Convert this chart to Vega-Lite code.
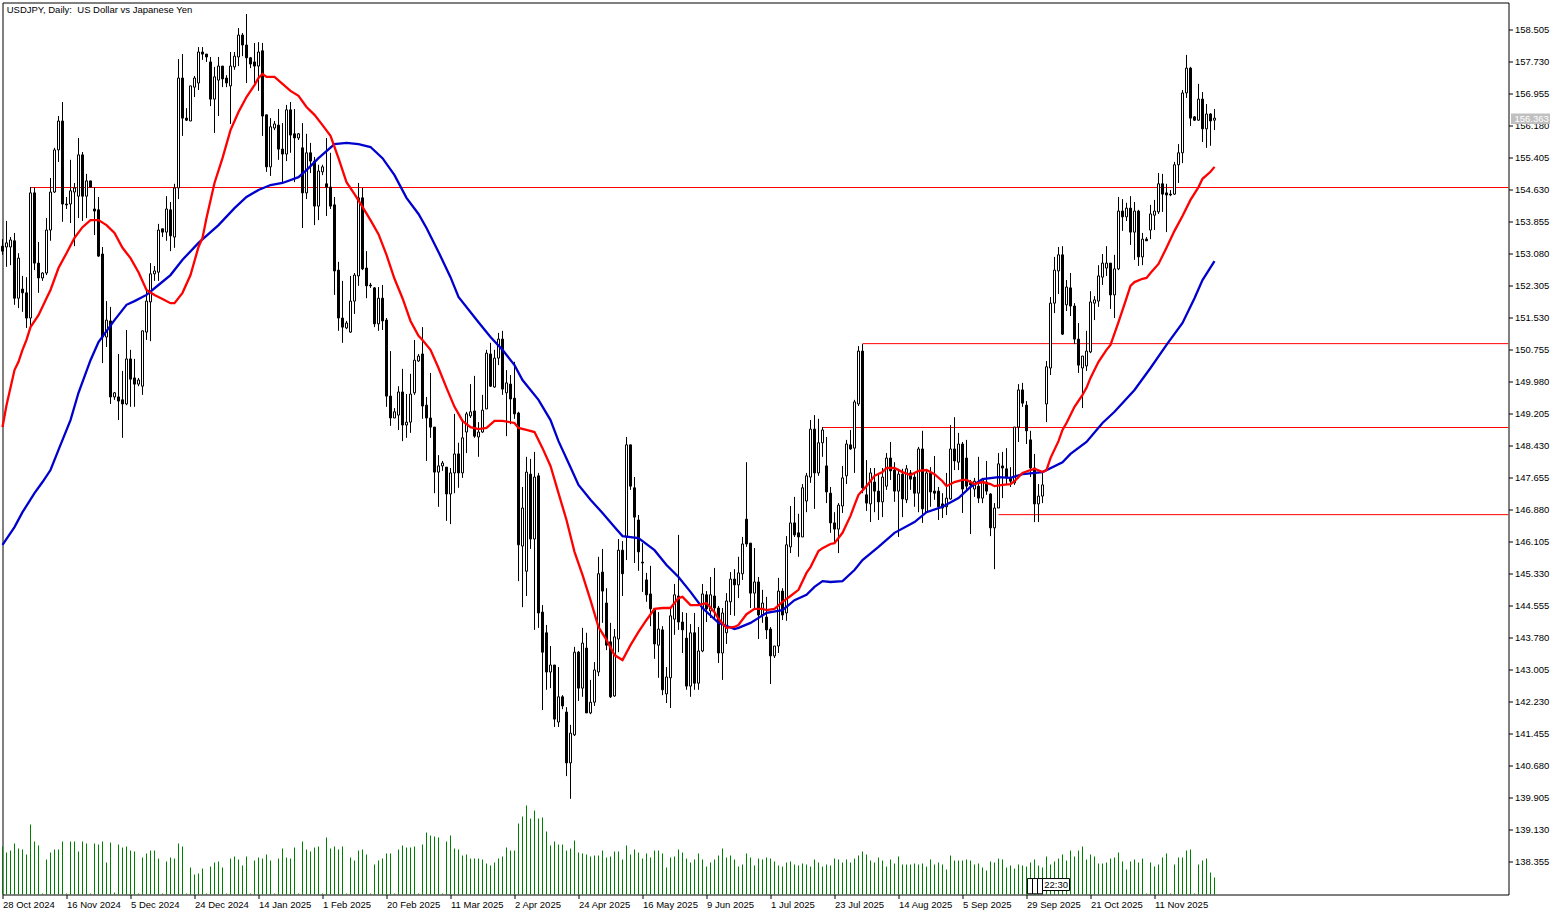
{
  "$schema": "https://vega.github.io/schema/vega-lite/v6.json",
  "width": 1506,
  "height": 892,
  "autosize": "none",
  "padding": {"left": 2.5, "top": 2.5, "right": 52.5, "bottom": 20.5},
  "background": "white",
  "datasets": {
    "candles": [
      {"bar":0,"o":153.26,"h":153.43,"l":153.05,"c":153.14,"v":48},
      {"bar":1,"o":153.24,"h":153.87,"l":152.76,"c":153.34,"v":42},
      {"bar":2,"o":153.24,"h":153.48,"l":152.80,"c":153.41,"v":44},
      {"bar":3,"o":153.39,"h":153.58,"l":151.84,"c":152.00,"v":51},
      {"bar":4,"o":152.00,"h":153.09,"l":151.76,"c":152.97,"v":46},
      {"bar":5,"o":152.22,"h":152.54,"l":151.67,"c":152.13,"v":45},
      {"bar":6,"o":152.13,"h":152.51,"l":151.28,"c":151.52,"v":40},
      {"bar":7,"o":151.52,"h":154.69,"l":151.28,"c":154.55,"v":70},
      {"bar":8,"o":154.55,"h":154.69,"l":152.68,"c":152.85,"v":53},
      {"bar":9,"o":152.85,"h":153.36,"l":152.13,"c":152.49,"v":49},
      {"bar":10,"o":152.49,"h":152.63,"l":152.42,"c":152.61,"v":1},
      {"bar":11,"o":152.61,"h":153.94,"l":152.56,"c":153.65,"v":35},
      {"bar":12,"o":153.65,"h":154.91,"l":153.39,"c":154.57,"v":42},
      {"bar":13,"o":154.57,"h":155.64,"l":154.55,"c":155.59,"v":45},
      {"bar":14,"o":155.59,"h":156.41,"l":155.30,"c":156.29,"v":45},
      {"bar":15,"o":156.29,"h":156.75,"l":153.85,"c":154.28,"v":53},
      {"bar":16,"o":154.28,"h":154.45,"l":154.16,"c":154.26,"v":1},
      {"bar":17,"o":154.28,"h":155.35,"l":153.82,"c":154.60,"v":53},
      {"bar":18,"o":154.57,"h":154.79,"l":153.26,"c":154.67,"v":53},
      {"bar":19,"o":154.47,"h":155.88,"l":153.94,"c":155.47,"v":43},
      {"bar":20,"o":155.47,"h":155.54,"l":153.87,"c":154.47,"v":53},
      {"bar":21,"o":154.47,"h":155.01,"l":153.94,"c":154.84,"v":51},
      {"bar":22,"o":154.84,"h":154.84,"l":154.67,"c":154.69,"v":1},
      {"bar":23,"o":154.16,"h":154.69,"l":153.53,"c":154.11,"v":51},
      {"bar":24,"o":154.14,"h":154.45,"l":153.00,"c":153.02,"v":50},
      {"bar":25,"o":153.07,"h":153.24,"l":150.43,"c":151.06,"v":53},
      {"bar":26,"o":151.06,"h":151.93,"l":150.82,"c":151.47,"v":32},
      {"bar":27,"o":151.45,"h":151.79,"l":149.44,"c":149.61,"v":52},
      {"bar":28,"o":149.61,"h":149.73,"l":149.54,"c":149.71,"v":2},
      {"bar":29,"o":149.61,"h":150.65,"l":149.05,"c":149.51,"v":50},
      {"bar":30,"o":149.54,"h":150.24,"l":148.62,"c":149.44,"v":47},
      {"bar":31,"o":149.44,"h":151.23,"l":149.41,"c":150.53,"v":48},
      {"bar":32,"o":150.53,"h":150.75,"l":149.37,"c":150.04,"v":44},
      {"bar":33,"o":150.07,"h":150.53,"l":149.37,"c":149.92,"v":43},
      {"bar":34,"o":149.92,"h":150.07,"l":149.87,"c":150.02,"v":1},
      {"bar":35,"o":149.87,"h":151.21,"l":149.66,"c":151.21,"v":37},
      {"bar":36,"o":151.18,"h":152.20,"l":150.99,"c":151.93,"v":41},
      {"bar":37,"o":151.91,"h":152.85,"l":150.96,"c":152.59,"v":44},
      {"bar":38,"o":152.59,"h":152.78,"l":152.42,"c":152.66,"v":44},
      {"bar":39,"o":152.63,"h":153.80,"l":152.42,"c":153.65,"v":36},
      {"bar":40,"o":153.68,"h":153.68,"l":153.48,"c":153.60,"v":1},
      {"bar":41,"o":153.60,"h":154.47,"l":153.39,"c":154.16,"v":33},
      {"bar":42,"o":154.14,"h":154.33,"l":153.14,"c":153.51,"v":37},
      {"bar":43,"o":153.48,"h":154.77,"l":153.22,"c":154.67,"v":36},
      {"bar":44,"o":154.67,"h":157.79,"l":154.40,"c":157.33,"v":51},
      {"bar":45,"o":157.33,"h":157.91,"l":155.93,"c":156.36,"v":48},
      {"bar":46,"o":156.36,"h":156.60,"l":156.29,"c":156.31,"v":1},
      {"bar":47,"o":156.29,"h":157.14,"l":156.29,"c":157.14,"v":27},
      {"bar":48,"o":157.11,"h":157.38,"l":156.87,"c":157.33,"v":20},
      {"bar":49,"o":157.21,"h":158.08,"l":157.04,"c":157.96,"v":21},
      {"bar":50,"o":157.96,"h":158.08,"l":157.77,"c":157.91,"v":26},
      {"bar":51,"o":157.91,"h":157.91,"l":157.72,"c":157.84,"v":1},
      {"bar":52,"o":157.72,"h":157.84,"l":156.65,"c":156.82,"v":28},
      {"bar":53,"o":156.82,"h":157.60,"l":156.00,"c":157.36,"v":32},
      {"bar":54,"o":157.28,"h":157.84,"l":156.41,"c":157.62,"v":33},
      {"bar":55,"o":157.62,"h":157.62,"l":157.11,"c":157.31,"v":27},
      {"bar":56,"o":157.33,"h":157.40,"l":157.11,"c":157.21,"v":1},
      {"bar":57,"o":157.14,"h":157.96,"l":156.22,"c":157.62,"v":36},
      {"bar":58,"o":157.60,"h":157.96,"l":157.53,"c":157.86,"v":38},
      {"bar":59,"o":157.84,"h":158.54,"l":157.62,"c":158.37,"v":35},
      {"bar":60,"o":158.37,"h":158.42,"l":157.86,"c":158.13,"v":29},
      {"bar":61,"o":158.13,"h":158.88,"l":157.21,"c":157.82,"v":38},
      {"bar":62,"o":157.82,"h":157.84,"l":157.57,"c":157.67,"v":1},
      {"bar":63,"o":157.72,"h":158.18,"l":157.21,"c":157.62,"v":34},
      {"bar":64,"o":157.62,"h":158.20,"l":157.02,"c":157.96,"v":37},
      {"bar":65,"o":157.99,"h":158.18,"l":155.93,"c":156.41,"v":36},
      {"bar":66,"o":156.44,"h":156.44,"l":155.06,"c":155.18,"v":40},
      {"bar":67,"o":155.18,"h":156.36,"l":154.96,"c":156.15,"v":34},
      {"bar":68,"o":156.12,"h":156.29,"l":156.07,"c":156.22,"v":1},
      {"bar":69,"o":156.19,"h":156.58,"l":155.35,"c":155.61,"v":36},
      {"bar":70,"o":155.61,"h":156.24,"l":154.79,"c":155.49,"v":46},
      {"bar":71,"o":155.49,"h":156.68,"l":155.32,"c":156.56,"v":37},
      {"bar":72,"o":156.56,"h":156.75,"l":155.52,"c":155.95,"v":36},
      {"bar":73,"o":155.98,"h":156.58,"l":154.81,"c":155.88,"v":47},
      {"bar":74,"o":155.88,"h":156.00,"l":155.83,"c":155.98,"v":1},
      {"bar":75,"o":155.64,"h":156.24,"l":153.70,"c":154.55,"v":53},
      {"bar":76,"o":154.55,"h":155.98,"l":154.40,"c":155.52,"v":45},
      {"bar":77,"o":155.52,"h":155.76,"l":155.03,"c":155.32,"v":43},
      {"bar":78,"o":155.32,"h":155.42,"l":153.77,"c":154.23,"v":47},
      {"bar":79,"o":154.23,"h":155.23,"l":153.89,"c":155.08,"v":48},
      {"bar":80,"o":155.06,"h":155.23,"l":154.98,"c":155.18,"v":1},
      {"bar":81,"o":154.77,"h":155.88,"l":153.99,"c":154.69,"v":57},
      {"bar":82,"o":154.69,"h":155.52,"l":154.16,"c":154.23,"v":46},
      {"bar":83,"o":154.26,"h":154.45,"l":152.08,"c":152.66,"v":48},
      {"bar":84,"o":152.68,"h":152.88,"l":151.21,"c":151.52,"v":45},
      {"bar":85,"o":151.52,"h":152.42,"l":150.92,"c":151.30,"v":48},
      {"bar":86,"o":151.28,"h":151.45,"l":151.25,"c":151.40,"v":1},
      {"bar":87,"o":151.18,"h":152.54,"l":151.16,"c":151.93,"v":37},
      {"bar":88,"o":151.93,"h":152.61,"l":151.62,"c":152.56,"v":34},
      {"bar":89,"o":152.54,"h":154.79,"l":152.30,"c":154.43,"v":44},
      {"bar":90,"o":154.43,"h":154.67,"l":152.68,"c":152.71,"v":45},
      {"bar":91,"o":152.73,"h":153.14,"l":152.00,"c":152.30,"v":40},
      {"bar":92,"o":152.32,"h":152.37,"l":152.25,"c":152.30,"v":1},
      {"bar":93,"o":152.25,"h":152.27,"l":151.30,"c":151.38,"v":30},
      {"bar":94,"o":151.38,"h":152.27,"l":151.21,"c":152.00,"v":34},
      {"bar":95,"o":152.00,"h":152.32,"l":151.23,"c":151.45,"v":36},
      {"bar":96,"o":151.47,"h":151.52,"l":149.37,"c":149.63,"v":41},
      {"bar":97,"o":149.63,"h":150.72,"l":148.91,"c":149.10,"v":41},
      {"bar":98,"o":149.10,"h":149.34,"l":149.10,"c":149.25,"v":1},
      {"bar":99,"o":149.17,"h":149.87,"l":148.81,"c":149.73,"v":45},
      {"bar":100,"o":149.73,"h":150.29,"l":148.54,"c":148.93,"v":49},
      {"bar":101,"o":148.93,"h":149.68,"l":148.62,"c":149.00,"v":47},
      {"bar":102,"o":149.00,"h":150.17,"l":148.74,"c":149.68,"v":47},
      {"bar":103,"o":149.71,"h":150.99,"l":149.66,"c":150.50,"v":48},
      {"bar":104,"o":150.48,"h":150.65,"l":150.46,"c":150.60,"v":1},
      {"bar":105,"o":150.65,"h":151.30,"l":149.08,"c":149.39,"v":50},
      {"bar":106,"o":149.41,"h":149.61,"l":148.06,"c":149.10,"v":62},
      {"bar":107,"o":149.10,"h":150.19,"l":148.62,"c":148.88,"v":59},
      {"bar":108,"o":148.88,"h":148.88,"l":147.28,"c":147.79,"v":58},
      {"bar":109,"o":147.79,"h":148.20,"l":146.95,"c":147.94,"v":57},
      {"bar":110,"o":147.94,"h":148.06,"l":147.82,"c":148.01,"v":1},
      {"bar":111,"o":147.91,"h":147.91,"l":146.61,"c":147.26,"v":53},
      {"bar":112,"o":147.26,"h":147.89,"l":146.53,"c":147.77,"v":59},
      {"bar":113,"o":147.77,"h":149.20,"l":147.28,"c":148.23,"v":46},
      {"bar":114,"o":148.23,"h":148.50,"l":147.41,"c":147.77,"v":45},
      {"bar":115,"o":147.77,"h":149.00,"l":147.65,"c":148.62,"v":39},
      {"bar":116,"o":148.76,"h":149.25,"l":148.25,"c":149.20,"v":40},
      {"bar":117,"o":149.15,"h":149.92,"l":149.10,"c":149.25,"v":36},
      {"bar":118,"o":149.27,"h":150.12,"l":148.62,"c":148.66,"v":36},
      {"bar":119,"o":148.64,"h":149.00,"l":148.16,"c":148.76,"v":36},
      {"bar":120,"o":148.76,"h":149.66,"l":148.74,"c":149.29,"v":35},
      {"bar":121,"o":149.32,"h":150.75,"l":149.32,"c":150.67,"v":31},
      {"bar":122,"o":150.65,"h":150.92,"l":149.85,"c":149.87,"v":29},
      {"bar":123,"o":149.85,"h":150.75,"l":149.83,"c":150.55,"v":32},
      {"bar":124,"o":150.55,"h":151.16,"l":150.38,"c":151.01,"v":36},
      {"bar":125,"o":151.01,"h":151.21,"l":149.66,"c":149.80,"v":38},
      {"bar":126,"o":149.71,"h":150.26,"l":148.66,"c":149.95,"v":47},
      {"bar":127,"o":149.92,"h":150.14,"l":148.95,"c":149.56,"v":44},
      {"bar":128,"o":149.58,"h":150.46,"l":149.08,"c":149.20,"v":44},
      {"bar":129,"o":149.22,"h":149.25,"l":145.15,"c":146.03,"v":71},
      {"bar":130,"o":146.00,"h":147.43,"l":144.52,"c":146.92,"v":78},
      {"bar":131,"o":145.39,"h":148.16,"l":144.79,"c":147.79,"v":89},
      {"bar":132,"o":147.74,"h":148.11,"l":145.93,"c":146.17,"v":76},
      {"bar":133,"o":146.17,"h":148.28,"l":143.97,"c":147.67,"v":84},
      {"bar":134,"o":147.70,"h":147.77,"l":144.02,"c":144.38,"v":76},
      {"bar":135,"o":144.40,"h":144.57,"l":142.03,"c":143.43,"v":77},
      {"bar":136,"o":143.90,"h":144.09,"l":142.52,"c":142.95,"v":63},
      {"bar":137,"o":142.95,"h":143.58,"l":142.56,"c":143.12,"v":49},
      {"bar":138,"o":143.12,"h":143.12,"l":141.62,"c":141.81,"v":53},
      {"bar":139,"o":141.74,"h":143.07,"l":141.62,"c":142.35,"v":50},
      {"bar":140,"o":142.35,"h":142.39,"l":142.05,"c":142.13,"v":50},
      {"bar":141,"o":141.98,"h":142.10,"l":140.43,"c":140.75,"v":44},
      {"bar":142,"o":140.75,"h":141.67,"l":139.88,"c":141.47,"v":46},
      {"bar":143,"o":141.43,"h":143.56,"l":141.40,"c":143.43,"v":54},
      {"bar":144,"o":143.43,"h":143.46,"l":142.25,"c":142.56,"v":42},
      {"bar":145,"o":142.56,"h":144.02,"l":142.35,"c":143.65,"v":41},
      {"bar":146,"o":143.53,"h":143.90,"l":141.96,"c":141.96,"v":40},
      {"bar":147,"o":141.96,"h":142.76,"l":141.93,"c":142.22,"v":38},
      {"bar":148,"o":142.22,"h":143.19,"l":142.13,"c":143.00,"v":39},
      {"bar":149,"o":142.95,"h":145.74,"l":142.85,"c":145.33,"v":39},
      {"bar":150,"o":145.37,"h":145.93,"l":144.14,"c":144.91,"v":44},
      {"bar":151,"o":144.62,"h":144.98,"l":143.48,"c":143.60,"v":37},
      {"bar":152,"o":143.68,"h":144.14,"l":142.32,"c":142.35,"v":38},
      {"bar":153,"o":142.37,"h":143.99,"l":142.35,"c":143.80,"v":43},
      {"bar":154,"o":143.75,"h":146.17,"l":143.43,"c":145.90,"v":43},
      {"bar":155,"o":145.90,"h":146.12,"l":144.79,"c":145.33,"v":35},
      {"bar":156,"o":146.22,"h":148.64,"l":145.66,"c":148.45,"v":49},
      {"bar":157,"o":148.45,"h":148.45,"l":147.36,"c":147.45,"v":40},
      {"bar":158,"o":147.41,"h":147.67,"l":145.59,"c":146.70,"v":45},
      {"bar":159,"o":146.63,"h":146.75,"l":145.40,"c":145.86,"v":42},
      {"bar":160,"o":145.61,"h":146.07,"l":144.89,"c":145.59,"v":36},
      {"bar":161,"o":145.18,"h":145.35,"l":144.65,"c":144.82,"v":41},
      {"bar":162,"o":144.84,"h":145.52,"l":144.06,"c":144.48,"v":37},
      {"bar":163,"o":144.48,"h":144.48,"l":143.27,"c":143.63,"v":44},
      {"bar":164,"o":143.60,"h":144.40,"l":142.81,"c":143.99,"v":44},
      {"bar":165,"o":143.97,"h":144.06,"l":142.39,"c":142.52,"v":41},
      {"bar":166,"o":142.42,"h":143.07,"l":142.20,"c":142.83,"v":27},
      {"bar":167,"o":142.81,"h":144.52,"l":142.08,"c":144.31,"v":37},
      {"bar":168,"o":144.23,"h":145.08,"l":143.85,"c":144.82,"v":38},
      {"bar":169,"o":144.79,"h":146.27,"l":143.97,"c":144.16,"v":45},
      {"bar":170,"o":144.16,"h":144.40,"l":143.41,"c":143.97,"v":42},
      {"bar":171,"o":143.77,"h":144.38,"l":142.52,"c":142.61,"v":36},
      {"bar":172,"o":142.61,"h":144.11,"l":142.35,"c":143.90,"v":32},
      {"bar":173,"o":143.90,"h":144.38,"l":142.52,"c":142.68,"v":35},
      {"bar":174,"o":142.68,"h":144.04,"l":142.52,"c":143.46,"v":41},
      {"bar":175,"o":143.46,"h":145.08,"l":143.43,"c":144.84,"v":35},
      {"bar":176,"o":144.82,"h":144.91,"l":144.16,"c":144.48,"v":28},
      {"bar":177,"o":144.43,"h":145.25,"l":144.26,"c":144.82,"v":32},
      {"bar":178,"o":144.79,"h":145.47,"l":144.21,"c":144.50,"v":35},
      {"bar":179,"o":144.50,"h":144.55,"l":143.17,"c":143.41,"v":39},
      {"bar":180,"o":143.41,"h":144.50,"l":142.76,"c":144.38,"v":46},
      {"bar":181,"o":143.90,"h":144.86,"l":143.63,"c":144.67,"v":37},
      {"bar":182,"o":144.65,"h":145.37,"l":144.33,"c":145.20,"v":39},
      {"bar":183,"o":145.20,"h":145.44,"l":144.31,"c":145.06,"v":35},
      {"bar":184,"o":145.06,"h":145.74,"l":144.74,"c":145.35,"v":28},
      {"bar":185,"o":145.33,"h":146.22,"l":145.18,"c":146.05,"v":30},
      {"bar":186,"o":146.65,"h":148.03,"l":145.98,"c":146.05,"v":41},
      {"bar":187,"o":146.07,"h":146.07,"l":144.50,"c":144.86,"v":37},
      {"bar":188,"o":144.86,"h":145.95,"l":144.50,"c":145.13,"v":29},
      {"bar":189,"o":145.13,"h":145.25,"l":143.75,"c":144.33,"v":36},
      {"bar":190,"o":144.33,"h":144.94,"l":144.14,"c":144.62,"v":35},
      {"bar":191,"o":144.28,"h":144.77,"l":143.75,"c":143.97,"v":37},
      {"bar":192,"o":143.99,"h":144.04,"l":142.66,"c":143.34,"v":36},
      {"bar":193,"o":143.34,"h":143.58,"l":143.29,"c":143.58,"v":33},
      {"bar":194,"o":143.58,"h":145.23,"l":143.41,"c":144.91,"v":29},
      {"bar":195,"o":144.91,"h":144.98,"l":144.21,"c":144.33,"v":28},
      {"bar":196,"o":144.38,"h":146.24,"l":144.19,"c":146.03,"v":32},
      {"bar":197,"o":145.98,"h":146.97,"l":145.83,"c":146.56,"v":33},
      {"bar":198,"o":146.56,"h":147.19,"l":146.22,"c":146.27,"v":30},
      {"bar":199,"o":146.32,"h":146.78,"l":145.74,"c":146.22,"v":29},
      {"bar":200,"o":146.22,"h":147.50,"l":146.22,"c":147.41,"v":31},
      {"bar":201,"o":147.09,"h":147.77,"l":146.82,"c":147.70,"v":30},
      {"bar":202,"o":147.67,"h":149.05,"l":147.53,"c":148.83,"v":28},
      {"bar":203,"o":148.83,"h":149.17,"l":146.90,"c":147.77,"v":35},
      {"bar":204,"o":147.77,"h":149.08,"l":147.70,"c":148.50,"v":32},
      {"bar":205,"o":148.50,"h":148.88,"l":148.16,"c":148.81,"v":28},
      {"bar":206,"o":147.94,"h":148.64,"l":147.04,"c":147.31,"v":30},
      {"bar":207,"o":147.28,"h":147.43,"l":146.32,"c":146.56,"v":29},
      {"bar":208,"o":146.56,"h":146.82,"l":146.07,"c":146.41,"v":36},
      {"bar":209,"o":146.41,"h":147.04,"l":145.83,"c":146.99,"v":35},
      {"bar":210,"o":146.97,"h":147.94,"l":146.80,"c":147.65,"v":32},
      {"bar":211,"o":147.70,"h":148.57,"l":147.50,"c":148.47,"v":35},
      {"bar":212,"o":148.45,"h":148.81,"l":148.33,"c":148.35,"v":32},
      {"bar":213,"o":148.37,"h":149.54,"l":147.77,"c":149.49,"v":36},
      {"bar":214,"o":149.44,"h":150.84,"l":149.39,"c":150.72,"v":39},
      {"bar":215,"o":150.72,"h":150.89,"l":147.28,"c":147.41,"v":43},
      {"bar":216,"o":147.24,"h":148.08,"l":146.85,"c":147.04,"v":40},
      {"bar":217,"o":147.02,"h":147.89,"l":146.58,"c":147.77,"v":34},
      {"bar":218,"o":147.55,"h":147.89,"l":146.82,"c":147.33,"v":32},
      {"bar":219,"o":147.33,"h":147.77,"l":146.63,"c":147.07,"v":37},
      {"bar":220,"o":147.07,"h":147.89,"l":146.70,"c":147.67,"v":34},
      {"bar":221,"o":147.45,"h":148.25,"l":147.36,"c":148.13,"v":28},
      {"bar":222,"o":148.13,"h":148.52,"l":147.60,"c":147.82,"v":35},
      {"bar":223,"o":147.84,"h":148.03,"l":147.07,"c":147.33,"v":31},
      {"bar":224,"o":147.33,"h":147.87,"l":146.22,"c":147.74,"v":38},
      {"bar":225,"o":147.74,"h":147.87,"l":146.70,"c":147.14,"v":30},
      {"bar":226,"o":147.12,"h":147.96,"l":147.04,"c":147.87,"v":30},
      {"bar":227,"o":147.77,"h":147.84,"l":147.36,"c":147.62,"v":30},
      {"bar":228,"o":147.67,"h":147.77,"l":146.95,"c":147.28,"v":31},
      {"bar":229,"o":147.28,"h":148.40,"l":146.82,"c":148.35,"v":30},
      {"bar":230,"o":148.35,"h":148.79,"l":146.56,"c":146.90,"v":31},
      {"bar":231,"o":146.82,"h":147.84,"l":146.80,"c":147.77,"v":28},
      {"bar":232,"o":147.77,"h":147.91,"l":146.95,"c":147.31,"v":35},
      {"bar":233,"o":147.33,"h":148.18,"l":147.12,"c":147.28,"v":30},
      {"bar":234,"o":147.33,"h":147.43,"l":146.63,"c":146.95,"v":32},
      {"bar":235,"o":147.02,"h":147.28,"l":146.68,"c":146.92,"v":30},
      {"bar":236,"o":146.95,"h":147.77,"l":146.75,"c":147.16,"v":25},
      {"bar":237,"o":147.14,"h":148.93,"l":147.12,"c":148.35,"v":39},
      {"bar":238,"o":148.35,"h":149.12,"l":147.84,"c":148.06,"v":34},
      {"bar":239,"o":148.03,"h":148.74,"l":147.84,"c":148.47,"v":34},
      {"bar":240,"o":148.47,"h":148.52,"l":146.80,"c":147.38,"v":34},
      {"bar":241,"o":148.13,"h":148.57,"l":147.36,"c":147.45,"v":35},
      {"bar":242,"o":147.53,"h":147.60,"l":146.29,"c":147.48,"v":34},
      {"bar":243,"o":147.38,"h":147.65,"l":147.19,"c":147.57,"v":30},
      {"bar":244,"o":147.45,"h":148.16,"l":147.04,"c":147.16,"v":31},
      {"bar":245,"o":147.16,"h":147.65,"l":147.04,"c":147.60,"v":27},
      {"bar":246,"o":147.55,"h":148.06,"l":147.24,"c":147.33,"v":24},
      {"bar":247,"o":147.26,"h":147.28,"l":146.24,"c":146.44,"v":33},
      {"bar":248,"o":146.44,"h":147.04,"l":145.44,"c":146.92,"v":32},
      {"bar":249,"o":146.92,"h":148.25,"l":146.92,"c":147.99,"v":36},
      {"bar":250,"o":147.94,"h":148.28,"l":147.16,"c":147.89,"v":35},
      {"bar":251,"o":147.87,"h":148.37,"l":147.50,"c":147.65,"v":27},
      {"bar":252,"o":147.65,"h":147.91,"l":147.43,"c":147.57,"v":29},
      {"bar":253,"o":147.53,"h":148.88,"l":147.48,"c":148.88,"v":26},
      {"bar":254,"o":148.88,"h":149.92,"l":148.52,"c":149.78,"v":30},
      {"bar":255,"o":149.78,"h":149.95,"l":149.37,"c":149.46,"v":29},
      {"bar":256,"o":149.41,"h":149.51,"l":148.47,"c":148.79,"v":28},
      {"bar":257,"o":148.57,"h":148.79,"l":147.67,"c":147.89,"v":32},
      {"bar":258,"o":147.89,"h":148.23,"l":146.58,"c":147.02,"v":35},
      {"bar":259,"o":147.02,"h":147.50,"l":146.58,"c":147.21,"v":29},
      {"bar":260,"o":147.21,"h":147.79,"l":147.04,"c":147.48,"v":27},
      {"bar":261,"o":149.44,"h":150.48,"l":149.00,"c":150.34,"v":38},
      {"bar":262,"o":150.31,"h":152.03,"l":150.14,"c":151.88,"v":30},
      {"bar":263,"o":151.88,"h":153.00,"l":151.64,"c":152.68,"v":33},
      {"bar":264,"o":152.66,"h":153.24,"l":152.10,"c":153.05,"v":36},
      {"bar":265,"o":153.05,"h":153.26,"l":151.11,"c":151.13,"v":40},
      {"bar":266,"o":151.84,"h":152.44,"l":151.69,"c":152.27,"v":34},
      {"bar":267,"o":152.25,"h":152.61,"l":151.57,"c":151.81,"v":44},
      {"bar":268,"o":151.81,"h":151.88,"l":150.89,"c":151.01,"v":38},
      {"bar":269,"o":151.01,"h":151.40,"l":150.19,"c":150.38,"v":44},
      {"bar":270,"o":150.31,"h":150.60,"l":149.34,"c":150.60,"v":48},
      {"bar":271,"o":150.36,"h":151.21,"l":150.24,"c":150.72,"v":35},
      {"bar":272,"o":150.70,"h":152.17,"l":150.67,"c":151.91,"v":40},
      {"bar":273,"o":151.88,"h":152.05,"l":151.47,"c":151.96,"v":38},
      {"bar":274,"o":151.93,"h":152.80,"l":151.79,"c":152.54,"v":31},
      {"bar":275,"o":152.51,"h":153.07,"l":152.32,"c":152.85,"v":31},
      {"bar":276,"o":152.73,"h":153.26,"l":152.54,"c":152.85,"v":32},
      {"bar":277,"o":152.85,"h":152.85,"l":151.74,"c":152.08,"v":36},
      {"bar":278,"o":152.08,"h":153.05,"l":151.52,"c":152.71,"v":37},
      {"bar":279,"o":152.71,"h":154.45,"l":152.68,"c":154.11,"v":42},
      {"bar":280,"o":154.11,"h":154.40,"l":153.63,"c":153.97,"v":33},
      {"bar":281,"o":153.97,"h":154.31,"l":153.87,"c":154.18,"v":25},
      {"bar":282,"o":154.18,"h":154.47,"l":153.29,"c":153.60,"v":33},
      {"bar":283,"o":153.60,"h":154.33,"l":152.93,"c":154.11,"v":35},
      {"bar":284,"o":154.11,"h":154.14,"l":152.78,"c":153.00,"v":32},
      {"bar":285,"o":153.00,"h":153.58,"l":152.80,"c":153.43,"v":36},
      {"bar":286,"o":153.43,"h":153.48,"l":153.39,"c":153.39,"v":1},
      {"bar":287,"o":153.65,"h":154.26,"l":153.43,"c":154.04,"v":32},
      {"bar":288,"o":154.01,"h":154.38,"l":153.65,"c":154.11,"v":28},
      {"bar":289,"o":154.09,"h":155.03,"l":154.04,"c":154.77,"v":30},
      {"bar":290,"o":154.77,"h":155.01,"l":154.09,"c":154.52,"v":37},
      {"bar":291,"o":154.55,"h":154.77,"l":153.60,"c":154.50,"v":41},
      {"bar":292,"o":154.52,"h":154.62,"l":154.47,"c":154.50,"v":1},
      {"bar":293,"o":154.52,"h":155.30,"l":154.50,"c":155.23,"v":30},
      {"bar":294,"o":155.23,"h":155.73,"l":154.79,"c":155.52,"v":37},
      {"bar":295,"o":155.52,"h":157.04,"l":155.27,"c":156.97,"v":37},
      {"bar":296,"o":156.97,"h":157.89,"l":156.85,"c":157.57,"v":44},
      {"bar":297,"o":157.57,"h":157.60,"l":156.17,"c":156.36,"v":45},
      {"bar":298,"o":156.39,"h":156.41,"l":156.29,"c":156.31,"v":1},
      {"bar":299,"o":156.31,"h":157.19,"l":156.29,"c":156.82,"v":30},
      {"bar":300,"o":156.82,"h":156.99,"l":155.78,"c":156.10,"v":34},
      {"bar":301,"o":156.10,"h":156.70,"l":155.64,"c":156.46,"v":36},
      {"bar":302,"o":156.46,"h":156.48,"l":155.69,"c":156.29,"v":22},
      {"bar":303,"o":156.31,"h":156.58,"l":156.07,"c":156.36,"v":17}
    ],
    "red": [
      {"bar":0,"ma":148.88},{"bar":1,"ma":149.41},{"bar":3,"ma":150.26},{"bar":4,"ma":150.46},{"bar":5,"ma":150.75},{"bar":6,"ma":150.99},{"bar":7,"ma":151.30},{"bar":9,"ma":151.59},{"bar":11,"ma":152.00},{"bar":12,"ma":152.20},{"bar":14,"ma":152.73},{"bar":16,"ma":153.09},{"bar":18,"ma":153.46},{"bar":20,"ma":153.72},{"bar":22,"ma":153.89},{"bar":24,"ma":153.89},{"bar":26,"ma":153.77},{"bar":28,"ma":153.58},{"bar":30,"ma":153.22},{"bar":32,"ma":152.97},{"bar":34,"ma":152.63},{"bar":36,"ma":152.20},{"bar":38,"ma":152.08},{"bar":40,"ma":151.98},{"bar":42,"ma":151.88},{"bar":43,"ma":151.88},{"bar":45,"ma":152.13},{"bar":47,"ma":152.56},{"bar":49,"ma":153.24},{"bar":50,"ma":153.46},{"bar":51,"ma":153.94},{"bar":53,"ma":154.79},{"bar":55,"ma":155.39},{"bar":57,"ma":156.07},{"bar":59,"ma":156.51},{"bar":61,"ma":156.87},{"bar":63,"ma":157.16},{"bar":64,"ma":157.33},{"bar":65,"ma":157.43},{"bar":66,"ma":157.36},{"bar":68,"ma":157.36},{"bar":70,"ma":157.19},{"bar":72,"ma":157.02},{"bar":74,"ma":156.90},{"bar":76,"ma":156.63},{"bar":78,"ma":156.44},{"bar":80,"ma":156.19},{"bar":82,"ma":155.93},{"bar":84,"ma":155.39},{"bar":86,"ma":154.81},{"bar":88,"ma":154.52},{"bar":90,"ma":154.21},{"bar":92,"ma":153.89},{"bar":94,"ma":153.55},{"bar":96,"ma":153.05},{"bar":98,"ma":152.47},{"bar":100,"ma":152.00},{"bar":102,"ma":151.45},{"bar":104,"ma":151.09},{"bar":105,"ma":150.99},{"bar":107,"ma":150.75},{"bar":109,"ma":150.31},{"bar":111,"ma":149.83},{"bar":113,"ma":149.37},{"bar":115,"ma":149.03},{"bar":117,"ma":148.88},{"bar":119,"ma":148.83},{"bar":121,"ma":148.86},{"bar":123,"ma":149.03},{"bar":125,"ma":149.03},{"bar":128,"ma":148.98},{"bar":129,"ma":148.86},{"bar":131,"ma":148.81},{"bar":133,"ma":148.76},{"bar":135,"ma":148.37},{"bar":137,"ma":147.94},{"bar":139,"ma":147.28},{"bar":141,"ma":146.63},{"bar":143,"ma":145.86},{"bar":145,"ma":145.30},{"bar":147,"ma":144.69},{"bar":149,"ma":144.04},{"bar":151,"ma":143.73},{"bar":153,"ma":143.36},{"bar":155,"ma":143.24},{"bar":157,"ma":143.60},{"bar":159,"ma":143.92},{"bar":161,"ma":144.21},{"bar":163,"ma":144.48},{"bar":165,"ma":144.50},{"bar":167,"ma":144.50},{"bar":169,"ma":144.74},{"bar":170,"ma":144.77},{"bar":172,"ma":144.57},{"bar":174,"ma":144.57},{"bar":176,"ma":144.62},{"bar":178,"ma":144.40},{"bar":179,"ma":144.24},{"bar":181,"ma":144.02},{"bar":183,"ma":144.04},{"bar":184,"ma":144.09},{"bar":186,"ma":144.35},{"bar":188,"ma":144.48},{"bar":190,"ma":144.48},{"bar":191,"ma":144.45},{"bar":193,"ma":144.48},{"bar":195,"ma":144.65},{"bar":197,"ma":144.79},{"bar":199,"ma":144.94},{"bar":201,"ma":145.35},{"bar":202,"ma":145.49},{"bar":204,"ma":145.88},{"bar":205,"ma":145.95},{"bar":207,"ma":146.05},{"bar":208,"ma":146.07},{"bar":210,"ma":146.32},{"bar":212,"ma":146.73},{"bar":213,"ma":146.99},{"bar":214,"ma":147.24},{"bar":216,"ma":147.45},{"bar":218,"ma":147.70},{"bar":220,"ma":147.79},{"bar":221,"ma":147.89},{"bar":223,"ma":147.89},{"bar":225,"ma":147.79},{"bar":227,"ma":147.72},{"bar":229,"ma":147.82},{"bar":231,"ma":147.84},{"bar":233,"ma":147.74},{"bar":235,"ma":147.57},{"bar":236,"ma":147.45},{"bar":238,"ma":147.55},{"bar":240,"ma":147.60},{"bar":241,"ma":147.60},{"bar":243,"ma":147.50},{"bar":245,"ma":147.55},{"bar":247,"ma":147.50},{"bar":248,"ma":147.45},{"bar":250,"ma":147.48},{"bar":252,"ma":147.50},{"bar":253,"ma":147.57},{"bar":255,"ma":147.77},{"bar":257,"ma":147.84},{"bar":258,"ma":147.87},{"bar":260,"ma":147.79},{"bar":261,"ma":147.84},{"bar":262,"ma":148.13},{"bar":264,"ma":148.54},{"bar":265,"ma":148.81},{"bar":266,"ma":148.98},{"bar":268,"ma":149.37},{"bar":270,"ma":149.66},{"bar":271,"ma":149.83},{"bar":272,"ma":150.07},{"bar":274,"ma":150.46},{"bar":276,"ma":150.75},{"bar":277,"ma":150.87},{"bar":279,"ma":151.42},{"bar":281,"ma":152.00},{"bar":282,"ma":152.30},{"bar":283,"ma":152.39},{"bar":285,"ma":152.47},{"bar":286,"ma":152.49},{"bar":287,"ma":152.61},{"bar":289,"ma":152.83},{"bar":291,"ma":153.22},{"bar":293,"ma":153.63},{"bar":295,"ma":153.99},{"bar":297,"ma":154.38},{"bar":299,"ma":154.69},{"bar":300,"ma":154.89},{"bar":302,"ma":155.06},{"bar":303,"ma":155.18}
    ],
    "blue": [
      {"bar":0,"ma":146.03},{"bar":3,"ma":146.46},{"bar":5,"ma":146.82},{"bar":8,"ma":147.28},{"bar":10,"ma":147.55},{"bar":12,"ma":147.84},{"bar":14,"ma":148.33},{"bar":17,"ma":149.05},{"bar":19,"ma":149.71},{"bar":22,"ma":150.50},{"bar":24,"ma":150.94},{"bar":28,"ma":151.47},{"bar":31,"ma":151.84},{"bar":33,"ma":151.93},{"bar":36,"ma":152.08},{"bar":39,"ma":152.32},{"bar":42,"ma":152.56},{"bar":45,"ma":152.93},{"bar":49,"ma":153.34},{"bar":54,"ma":153.77},{"bar":58,"ma":154.18},{"bar":61,"ma":154.45},{"bar":64,"ma":154.62},{"bar":67,"ma":154.74},{"bar":70,"ma":154.79},{"bar":74,"ma":154.93},{"bar":76,"ma":155.10},{"bar":79,"ma":155.39},{"bar":83,"ma":155.73},{"bar":86,"ma":155.76},{"bar":89,"ma":155.73},{"bar":92,"ma":155.66},{"bar":95,"ma":155.39},{"bar":98,"ma":154.98},{"bar":101,"ma":154.43},{"bar":104,"ma":154.04},{"bar":106,"ma":153.70},{"bar":109,"ma":153.12},{"bar":112,"ma":152.51},{"bar":114,"ma":152.03},{"bar":119,"ma":151.42},{"bar":122,"ma":151.06},{"bar":125,"ma":150.75},{"bar":128,"ma":150.38},{"bar":130,"ma":150.02},{"bar":134,"ma":149.54},{"bar":137,"ma":149.05},{"bar":139,"ma":148.54},{"bar":142,"ma":147.91},{"bar":144,"ma":147.48},{"bar":147,"ma":147.12},{"bar":150,"ma":146.80},{"bar":153,"ma":146.46},{"bar":155,"ma":146.24},{"bar":159,"ma":146.19},{"bar":163,"ma":145.90},{"bar":166,"ma":145.54},{"bar":169,"ma":145.25},{"bar":172,"ma":144.89},{"bar":175,"ma":144.50},{"bar":179,"ma":144.14},{"bar":183,"ma":143.99},{"bar":184,"ma":144.02},{"bar":187,"ma":144.14},{"bar":191,"ma":144.38},{"bar":195,"ma":144.45},{"bar":198,"ma":144.69},{"bar":201,"ma":144.82},{"bar":203,"ma":145.01},{"bar":205,"ma":145.15},{"bar":207,"ma":145.13},{"bar":210,"ma":145.15},{"bar":213,"ma":145.42},{"bar":215,"ma":145.66},{"bar":219,"ma":145.98},{"bar":223,"ma":146.32},{"bar":228,"ma":146.58},{"bar":231,"ma":146.82},{"bar":235,"ma":146.95},{"bar":239,"ma":147.16},{"bar":242,"ma":147.43},{"bar":245,"ma":147.62},{"bar":249,"ma":147.67},{"bar":252,"ma":147.65},{"bar":255,"ma":147.74},{"bar":260,"ma":147.79},{"bar":265,"ma":148.03},{"bar":267,"ma":148.23},{"bar":271,"ma":148.52},{"bar":275,"ma":148.98},{"bar":278,"ma":149.25},{"bar":283,"ma":149.78},{"bar":287,"ma":150.31},{"bar":291,"ma":150.87},{"bar":295,"ma":151.40},{"bar":298,"ma":152.00},{"bar":300,"ma":152.44},{"bar":303,"ma":152.90}
    ],
    "levels": [
      {"bar":7,"price":154.68},
      {"bar":205,"price":148.87},
      {"bar":215,"price":150.90},
      {"bar":249,"price":146.76}
    ],
    "timer": [
      {"bar":256.25,"bar2":257.5,"top":137.95,"bottom":137.58},
      {"bar":257.5,"bar2":258.75,"top":137.95,"bottom":137.58},
      {"bar":258.75,"bar2":260,"top":137.95,"bottom":137.58},
      {"bar":260,"bar2":266.75,"top":137.95,"bottom":137.66}
    ]
  },
  "encoding": {
    "x": {
      "field": "bar",
      "type": "quantitative",
      "title": null,
      "scale": {"domain": [0, 376.5], "nice": false, "zero": false, "padding": 0},
      "axis": {
        "values": [0,16,32,48,64,80,96,112,128,144,160,176,192,208,224,240,256,272,288],
        "labelExpr": "['28 Oct 2024','16 Nov 2024','5 Dec 2024','24 Dec 2024','14 Jan 2025','1 Feb 2025','20 Feb 2025','11 Mar 2025','2 Apr 2025','24 Apr 2025','16 May 2025','9 Jun 2025','1 Jul 2025','23 Jul 2025','14 Aug 2025','5 Sep 2025','29 Sep 2025','21 Oct 2025','11 Nov 2025'][datum.value/16]",
        "grid": false,
        "domain": false,
        "tickColor": "black",
        "tickSize": 4,
        "labelAlign": "left",
        "labelBaseline": "top",
        "labelPadding": 1,
        "labelFont": "Liberation Sans",
        "labelFontSize": 9.5,
        "labelColor": "black",
        "labelFlush": false,
        "labelOverlap": false
      }
    }
  },
  "layer": [
    {
      "data": {"name": "candles"},
      "mark": {"type": "rule", "color": "#008000", "strokeWidth": 1},
      "encoding": {
        "y": {"field": "v", "type": "quantitative", "title": null, "scale": {"domain": [0, 892], "nice": false}, "axis": null},
        "y2": {"datum": 0}
      }
    },
    {
      "layer": [
        {
          "data": {"values": [{"price": 156.363}]},
          "mark": {"type": "rule", "color": "#c0c0c0", "strokeWidth": 1},
          "encoding": {
            "x": {"datum": 0},
            "x2": {"datum": 376.5},
            "y": {
              "field": "price",
              "type": "quantitative",
              "title": null,
              "scale": {"domain": [137.564, 159.159], "nice": false, "zero": false},
              "axis": {
                "orient": "right",
                "values": [158.505,157.73,156.955,156.18,155.405,154.63,153.855,153.08,152.305,151.53,150.755,149.98,149.205,148.43,147.655,146.88,146.105,145.33,144.555,143.78,143.005,142.23,141.455,140.68,139.905,139.13,138.355],
                "tickCount": 40,
                "format": ".3f",
                "grid": false,
                "domain": false,
                "tickColor": "black",
                "tickSize": 4,
                "labelPadding": 2,
                "labelFont": "Liberation Sans",
                "labelFontSize": 9.5,
                "labelColor": "black",
                "labelOverlap": false,
                "labelBound": false
              }
            }
          }
        },
        {
          "data": {"name": "levels"},
          "mark": {"type": "rule", "color": "#ff0000", "strokeWidth": 1},
          "encoding": {
            "x2": {"datum": 376.5},
            "y": {"field": "price", "type": "quantitative", "title": null}
          }
        },
        {
          "data": {"name": "candles"},
          "mark": {"type": "rule", "color": "black", "strokeWidth": 1},
          "encoding": {
            "y": {"field": "h", "type": "quantitative", "title": null},
            "y2": {"field": "l"}
          }
        },
        {
          "data": {"name": "candles"},
          "mark": {"type": "bar", "size": 2, "stroke": "black", "strokeWidth": 1, "orient": "vertical"},
          "encoding": {
            "y": {"field": "o", "type": "quantitative", "title": null},
            "y2": {"field": "c"},
            "fill": {"condition": {"test": "datum.c > datum.o", "value": "white"}, "value": "black"}
          }
        },
        {
          "data": {"name": "blue"},
          "mark": {"type": "line", "color": "#0000cd", "strokeWidth": 2.3},
          "encoding": {"y": {"field": "ma", "type": "quantitative", "title": null}}
        },
        {
          "data": {"name": "red"},
          "mark": {"type": "line", "color": "#ff0000", "strokeWidth": 2.3},
          "encoding": {"y": {"field": "ma", "type": "quantitative", "title": null}}
        },
        {
          "data": {"name": "timer"},
          "mark": {"type": "rect", "fill": "white", "stroke": "black", "strokeWidth": 1},
          "encoding": {
            "x2": {"field": "bar2"},
            "y": {"field": "top", "type": "quantitative", "title": null},
            "y2": {"field": "bottom"}
          }
        },
        {
          "data": {"values": [{"bar": 263.4, "price": 137.8, "label": "22:30"}]},
          "mark": {"type": "text", "font": "Liberation Sans", "fontSize": 9.5, "color": "black", "align": "center", "baseline": "middle"},
          "encoding": {
            "y": {"field": "price", "type": "quantitative", "title": null},
            "text": {"field": "label"}
          }
        },
        {
          "data": {"values": [{"bar": 1.05, "price": 158.98, "label": "USDJPY, Daily:\u00a0 US Dollar vs Japanese Yen"}]},
          "mark": {"type": "text", "font": "Liberation Sans", "fontSize": 9.5, "color": "black", "align": "left", "baseline": "middle"},
          "encoding": {
            "y": {"field": "price", "type": "quantitative", "title": null},
            "text": {"field": "label"}
          }
        },
        {
          "data": {"values": [{"bar": 377.125, "bar2": 386.875, "top": 156.47, "bottom": 156.22}]},
          "mark": {"type": "rect", "fill": "#c0c0c0", "clip": false},
          "encoding": {
            "x2": {"field": "bar2"},
            "y": {"field": "top", "type": "quantitative", "title": null},
            "y2": {"field": "bottom"}
          }
        },
        {
          "data": {"values": [{"bar": 378, "price": 156.35, "label": "156.363"}]},
          "mark": {"type": "text", "font": "Liberation Sans", "fontSize": 9.5, "color": "white", "align": "left", "baseline": "middle"},
          "encoding": {
            "y": {"field": "price", "type": "quantitative", "title": null},
            "text": {"field": "label"}
          }
        }
      ]
    }
  ],
  "resolve": {"scale": {"y": "independent"}, "axis": {"y": "independent"}},
  "config": {"view": {"stroke": "black", "strokeWidth": 1}, "axis": {"tickWidth": 1, "labelOverlap": false}, "axisY": {"labelOverlap": false}}
}
